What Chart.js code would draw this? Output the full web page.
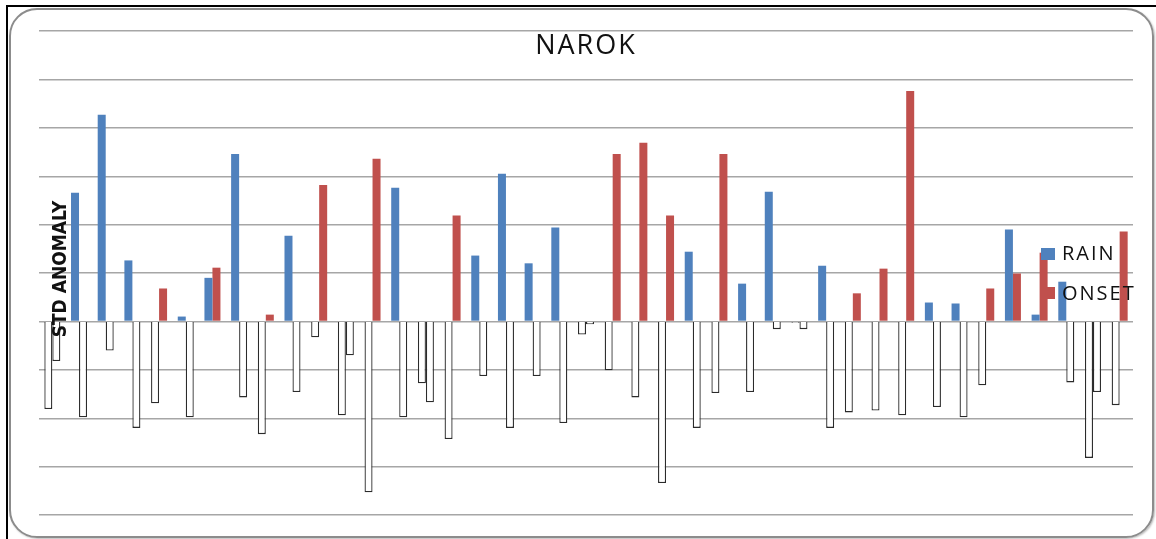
<!DOCTYPE html>
<html>
<head>
<meta charset="utf-8">
<script src="https://cdn.jsdelivr.net/npm/chart.js"></script>
<style>
  html, body { margin: 0; padding: 0; background: #fff; }
  #wrap { position: relative; width: 1156px; height: 539px; overflow: hidden; }
  #edge { position: absolute; left: 6px; top: 5px; width: 1160px; height: 560px;
          border-left: 2px solid #000; border-top: 2px solid #000; }
  #frame { position: absolute; left: 9px; top: 8px; width: 1141px; height: 526px;
           border: 2px solid #8c8c8c; border-radius: 28px; box-shadow: 1px 1px 2px #bbb; }
  canvas { position: absolute; left: 0; top: 0; }
</style>
</head>
<body>
<div id="wrap">
  <div id="edge"></div>
  <div id="frame"></div>
  <canvas id="myChart" width="1156" height="539"></canvas>
</div>
<script>
const categories = ["1","2","3","4","5","6","7","8","9","10","11","12","13","14","15","16","17","18","19","20",
  "21","22","23","24","25","26","27","28","29","30","31","32","33","34","35","36","37","38","39","40","41"]
const rain = [-1.81, 2.66, 4.27, 1.26, -1.69, 0.1, 0.9, 3.46, -2.33, 1.77, -0.33, -1.94, -3.53, 2.76, -1.28,
  -2.43, 1.36, 3.05, 1.2, 1.94, -0.27, -1.01, -1.57, -3.34, 1.44, -1.48, 0.78, 2.68, -0.03, 1.15,
  -1.88, -1.84, -1.94, 0.39, 0.37, -1.32, 1.9, 0.14, 0.82, -2.82, -1.73]
const onset = [-0.82, -1.98, -0.6, -2.2, 0.68, -1.98, 1.11, -1.57, 0.14, -1.46, 2.82, -0.7, 3.36, -1.98, -1.67,
  2.19, -1.13, -2.2, -1.13, -2.1, -0.06, 3.46, 3.69, 2.19, -2.2, 3.46, -1.46, -0.16, -0.16, -2.2,
  0.58, 1.09, 4.76, -1.77, -1.98, 0.68, 0.99, 1.42, -1.26, -1.46, 1.86]
const yMin = -4, yMax = 6, yStep = 1

const BLUE = "#4f81bd", RED = "#c0504d"

// excel "invert if negative": negative bars are white with a dark outline
const fill = (color) => (c) => (c.raw < 0 ? "#ffffff" : color)
const edge = (color) => (c) => (c.raw < 0 ? "#2b2b2b" : color)
const edgeW = (c) => (c.raw < 0 ? 1.3 : 0)

const extras = {
  id: "extras",
  afterDatasetsDraw(chart) {
    const ctx = chart.ctx
    ctx.save()
    // title
    ctx.fillStyle = "#111"
    ctx.font = "27px 'Open Sans', sans-serif"
    ctx.letterSpacing = "2px"
    ctx.textAlign = "center"
    ctx.textBaseline = "alphabetic"
    ctx.fillText("NAROK", 586, 54)
    // y axis title, sits over the first bars like in the original
    ctx.letterSpacing = "0px"
    ctx.save()
    ctx.translate(66, 269)
    ctx.rotate(-Math.PI / 2)
    ctx.font = "bold 19px 'Liberation Sans Narrow', 'DejaVu Sans Condensed', sans-serif"
    ctx.textBaseline = "alphabetic"
    ctx.fillText("STD ANOMALY", 0, 0)
    ctx.restore()
    // legend
    ctx.textAlign = "left"
    ctx.textBaseline = "middle"
    ctx.font = "20px 'Open Sans', sans-serif"
    ctx.letterSpacing = "2px"
    ctx.fillStyle = BLUE
    ctx.fillRect(1041, 248, 14, 12)
    ctx.fillStyle = RED
    ctx.fillRect(1041, 287, 14, 12)
    ctx.fillStyle = "#111"
    ctx.fillText("RAIN", 1062, 254)
    ctx.fillText("ONSET", 1062, 294)
    ctx.restore()
  },
}

new Chart(document.getElementById("myChart"), {
  type: "bar",
  data: {
    labels: categories,
    datasets: [
      {
        label: "RAIN",
        data: rain,
        backgroundColor: fill(BLUE),
        borderColor: edge(BLUE),
        borderWidth: edgeW,
      },
      {
        label: "ONSET",
        data: onset,
        backgroundColor: fill(RED),
        borderColor: edge(RED),
        borderWidth: edgeW,
      },
    ],
  },
  options: {
    responsive: false,
    animation: false,
    categoryPercentage: 0.6,
    barPercentage: 1.0,
    layout: { padding: { left: 39, right: 23, top: 31, bottom: 24 } },
    plugins: {
      legend: { display: false },
      tooltip: { enabled: false },
    },
    scales: {
      x: { display: false },
      y: {
        min: yMin,
        max: yMax,
        ticks: { display: false, stepSize: yStep },
        grid: { color: "#a6a6a6", lineWidth: 1.4, drawTicks: false },
        border: { display: false },
      },
    },
  },
  plugins: [extras],
})
</script>
</body>
</html>
